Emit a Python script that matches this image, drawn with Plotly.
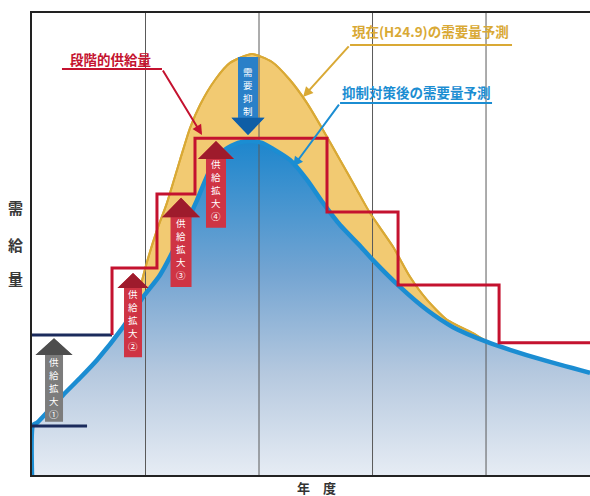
import plotly.graph_objects as go

# ---- data (x: fiscal-year units, y: supply/demand units) ----
demand_before_x = [0.925, 1.013, 1.101, 1.189, 1.304, 1.392, 1.480, 1.612, 1.744, 1.938,
                   2.115, 2.273, 2.423, 2.564, 2.714, 2.863, 2.978, 3.181, 3.330, 3.480,
                   3.656, 3.885, 4.009]
demand_before_y = [37.9, 46.1, 53.0, 58.9, 68.2, 75.1, 80.1, 85.5, 89.2, 91.1,
                   89.4, 85.5, 80.5, 74.7, 68.2, 61.7, 56.7, 49.4, 42.9, 37.9,
                   33.6, 30.7, 28.8]

demand_after_x = [0.0, 0.009, 0.044, 0.273, 0.423, 0.573, 0.802, 0.978, 1.128, 1.304,
                  1.454, 1.568, 1.700, 1.815, 1.921, 2.026, 2.123, 2.273, 2.423, 2.564,
                  2.714, 2.890, 3.004, 3.242, 3.480, 3.709, 4.009, 4.211, 4.502, 4.916]
demand_after_y = [0.0, 10.8, 11.3, 17.3, 21.0, 24.9, 32.0, 38.5, 43.3, 51.5,
                  59.5, 66.0, 70.4, 71.9, 72.3, 71.9, 70.6, 68.2, 63.9, 58.9,
                  54.1, 49.6, 46.5, 40.7, 35.7, 32.0, 28.8, 27.1, 24.9, 22.1]

# staged supply: step change years and the level held after each step
supply_step_x = [0.705, 0.705, 1.101, 1.436, 2.599, 3.225, 4.115, 4.916]
supply_step_y = [30.3, 44.8, 60.8, 72.9, 56.9, 41.1, 28.6, 28.6]

# existing supply levels before expansion (start, end, level)
base_supply = [(0.0, 0.705, 30.3), (0.0, 0.485, 10.6)]

year_grid = [1, 2, 3, 4]
X_MAX, Y_MAX = 4.916, 100

PX_X = 113.5  # pixels per x unit
PX_Y = 4.62   # pixels per y unit
RED, GOLD, BLUE, NAVY = "#c4122f", "#d9a935", "#1b8dd2", "#1b2b5c"
FONT = "Noto Sans CJK JP"

fig = go.Figure()

# forecast before suppression (gold band)
fig.add_trace(go.Scatter(x=demand_before_x, y=demand_before_y, mode="lines",
                         line=dict(color=GOLD, width=2, shape="spline", smoothing=0.6),
                         fill="tozeroy", fillcolor="#f2ca72", hoverinfo="skip"))
# forecast after suppression, gradient area
fig.add_trace(go.Scatter(x=demand_after_x, y=demand_after_y, mode="lines",
                         line=dict(color="rgba(0,0,0,0)", width=0, shape="spline", smoothing=0.6),
                         fill="tozeroy",
                         fillgradient=dict(type="vertical", start=0, stop=72.3,
                                           colorscale=[[0, "#e6ecf4"], [0.3, "#b6c9df"],
                                                       [0.6, "#75a5d2"], [1, "#1d86cd"]]),
                         hoverinfo="skip"))

# year grid lines
gx, gy = [], []
for g in year_grid:
    gx += [g, g, None]
    gy += [0, Y_MAX, None]
fig.add_trace(go.Scatter(x=gx, y=gy, mode="lines", line=dict(color="#5a5a5a", width=1),
                         hoverinfo="skip"))

fig.add_trace(go.Scatter(x=demand_before_x, y=demand_before_y, mode="lines",
                         line=dict(color=GOLD, width=2, shape="spline", smoothing=0.6),
                         hoverinfo="skip"))
fig.add_trace(go.Scatter(x=demand_after_x, y=demand_after_y, mode="lines",
                         line=dict(color=BLUE, width=4.5, shape="spline", smoothing=0.6),
                         hoverinfo="skip"))

for x0, x1, lv in base_supply:
    fig.add_trace(go.Scatter(x=[x0, x1], y=[lv, lv], mode="lines",
                             line=dict(color=NAVY, width=3), hoverinfo="skip"))

fig.add_trace(go.Scatter(x=supply_step_x, y=supply_step_y, mode="lines",
                         line=dict(color=RED, width=3, shape="hv"), hoverinfo="skip"))


def arrow_path(cx, shaft_w, head_w, tip, base, end):
    """Block arrow with head at `tip`; shaft from `base` to `end` (px widths)."""
    s = shaft_w / 2 / PX_X
    h = head_w / 2 / PX_X
    return (f"M{cx - s},{end} L{cx - s},{base} L{cx - h},{base} L{cx},{tip} "
            f"L{cx + h},{base} L{cx + s},{base} L{cx + s},{end} Z")


def head_path(cx, head_w, tip, base):
    h = head_w / 2 / PX_X
    return f"M{cx - h},{base} L{cx},{tip} L{cx + h},{base} Z"


# block arrows: centre, shaft/head width (px), tip, head base, tail, colours, label,
# offset (px) of first character from the label start edge
arrows = [
    (0.194, 18, 37, 29.6, 26.0, 11.5, "#7c7c7c", "#4e4e4e", "供給拡大①", 7),
    (0.890, 18, 31, 43.7, 40.5, 25.5, "#cf3444", "#9e1b2c", "供給拡大②", 6),
    (1.313, 21, 38, 60.0, 55.8, 40.7, "#cf3444", "#9e1b2c", "供給拡大③", 6),
    (1.621, 20, 36, 72.3, 68.4, 53.5, "#cf3444", "#9e1b2c", "供給拡大④", 5),
    (1.903, 20, 33, 73.6, 77.3, 90.5, "#2a80c8", "#0f5ea6", "需要抑制", 15),
]
shapes = []
for cx, sw, hw, tip, base, end, c_body, c_head, label, first in arrows:
    shapes.append(dict(type="path", path=arrow_path(cx, sw, hw, tip, base, end),
                       fillcolor=c_body, line=dict(width=0), layer="above"))
    shapes.append(dict(type="path", path=head_path(cx, hw, tip, base),
                       fillcolor=c_head, line=dict(width=0), layer="above"))
    # characters stacked vertically, top to bottom
    top = base if tip > base else end
    for i, ch in enumerate(label):
        fig.add_annotation(x=cx, y=top - (first + 13 * i) / PX_Y, text=ch, showarrow=False,
                           font=dict(family=FONT, size=9.5, color="white"))

# callout labels with underline and leader arrow
callouts = [
    ("段階的供給量", RED, 0.690, 90.0, 0.264, 1.145, 87.9, 1.498, 73.6, 1.145),
    ("現在(H24.9)の需要量予測", GOLD, 3.515, 96.1, 2.802, 4.229, 93.1, 2.388, 81.8, 2.802),
    ("抑制対策後の需要量予測", BLUE, 3.385, 82.8, 2.714, 4.053, 80.5, 2.300, 66.7, 2.714),
]
for text, col, tx, ty, ux0, ux1, uy, hx, hy, lead_x in callouts:
    fig.add_annotation(x=tx, y=ty, text=f"<b>{text}</b>", showarrow=False,
                       font=dict(family=FONT, size=13.5, color=col))
    shapes.append(dict(type="line", x0=ux0, x1=ux1, y0=uy, y1=uy,
                       line=dict(color=col, width=2), layer="above"))
    fig.add_annotation(x=hx, y=hy, ax=lead_x, ay=uy,
                       xref="x", yref="y", axref="x", ayref="y", text="",
                       showarrow=True, arrowhead=2, arrowsize=1, arrowwidth=2,
                       arrowcolor=col)

# axis titles
for ch, py in (("需", 0.578), ("給", 0.498), ("量", 0.426)):
    fig.add_annotation(xref="paper", yref="paper", x=-0.029, y=py, text=f"<b>{ch}</b>",
                       xanchor="center", yanchor="middle", showarrow=False,
                       font=dict(family=FONT, size=15, color="#3a3a3a"))
fig.add_annotation(xref="paper", yref="paper", x=0.509, y=-0.026, text="<b>年　度</b>",
                   xanchor="center", yanchor="middle", showarrow=False,
                   font=dict(family=FONT, size=13, color="#333"))

fig.update_layout(
    width=590, height=496,
    margin=dict(l=32, r=0, t=13, b=21),
    paper_bgcolor="white", plot_bgcolor="white",
    showlegend=False, shapes=shapes,
    xaxis=dict(range=[0, X_MAX], showgrid=False, zeroline=False, showticklabels=False,
               ticks="", showline=True, mirror=True, linecolor="#222", linewidth=2),
    yaxis=dict(range=[0, Y_MAX], showgrid=False, zeroline=False, showticklabels=False,
               ticks="", showline=True, linecolor="#222", linewidth=2),
)

fig.write_html("out.html")
